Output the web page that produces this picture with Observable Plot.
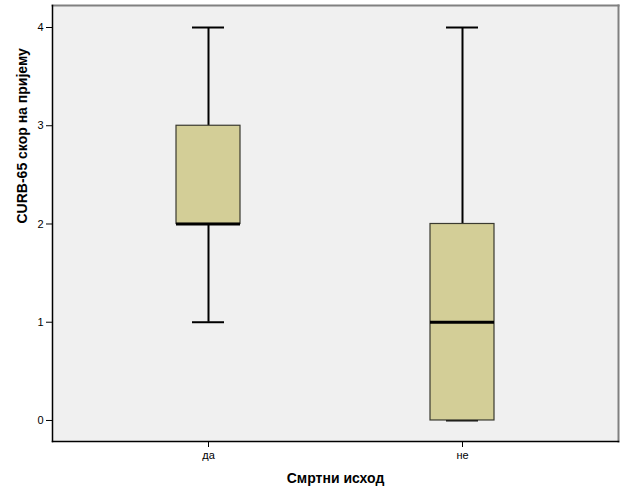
<!DOCTYPE html>
<html><head><meta charset="utf-8">
<script src="https://cdn.jsdelivr.net/npm/d3@7"></script>
<script src="https://cdn.jsdelivr.net/npm/@observablehq/plot@0.6"></script>
<style>
body{margin:0;background:#fff;}
svg{font-family:"Liberation Sans",Arial,sans-serif;}
</style></head><body>
<div id="chart"></div>
<script>
const categories = ["да", "не"];
const mins = [1, 0];
const q1s = [2, 0];
const medians = [2, 1];
const q3s = [3, 2];
const maxs = [4, 4];
const yTicks = [0, 1, 2, 3, 4];
const xLabel = "Смртни исход";
const yLabel = "CURB-65 скор на пријему";

const boxes = categories.map((c, i) => ({cat: c, min: mins[i], q1: q1s[i], med: medians[i], q3: q3s[i], max: maxs[i]}));

const plot = Plot.plot({
  width: 626, height: 501,
  marginLeft: 52, marginRight: 8, marginTop: 5, marginBottom: 60,
  style: {fontFamily: "Liberation Sans, Arial, sans-serif", fontSize: "11px", color: "#000", background: "#fff"},
  x: {domain: categories, paddingInner: 0.748, paddingOuter: 0.488, label: null},
  y: {domain: [-0.214, 4.224], label: null},
  marks: [
    Plot.frame({fill: "#f0f0f0", stroke: null}),
    Plot.frame({anchor: "top", stroke: "#808080", strokeWidth: 2}),
    Plot.frame({anchor: "right", stroke: "#808080", strokeWidth: 2}),
    Plot.frame({anchor: "left", stroke: "#000", strokeWidth: 1.5}),
    Plot.frame({anchor: "bottom", stroke: "#000", strokeWidth: 1.5}),
    Plot.axisY({ticks: yTicks, tickSize: 6, tickPadding: 3, label: null, tickFormat: d3.format("d"), fontSize: 11}),
    Plot.axisX({tickSize: 6, tickPadding: 4, label: null, fontSize: 11}),
    Plot.ruleX(boxes, {x: "cat", y1: "min", y2: "q1", stroke: "#000", strokeWidth: 2}),
    Plot.ruleX(boxes, {x: "cat", y1: "q3", y2: "max", stroke: "#000", strokeWidth: 2}),
    Plot.tickY(boxes, {x: "cat", y: "min", stroke: "#000", strokeWidth: 2, insetLeft: 16, insetRight: 16}),
    Plot.tickY(boxes, {x: "cat", y: "max", stroke: "#000", strokeWidth: 2, insetLeft: 16, insetRight: 16}),
    Plot.barY(boxes, {x: "cat", y1: "q1", y2: "q3", fill: "#d3ce97", stroke: "#3a3a30", strokeWidth: 1.2}),
    Plot.tickY(boxes, {x: "cat", y: "med", stroke: "#000", strokeWidth: 3}),
    Plot.text([yLabel], {frameAnchor: "left", dx: -30, rotate: -90, fontWeight: "bold", fontSize: 14, fill: "#000"}),
    Plot.text([xLabel], {frameAnchor: "bottom", dy: 41, fontWeight: "bold", fontSize: 14, fill: "#000"})
  ]
});
document.getElementById("chart").appendChild(plot);
</script>
</body></html>
